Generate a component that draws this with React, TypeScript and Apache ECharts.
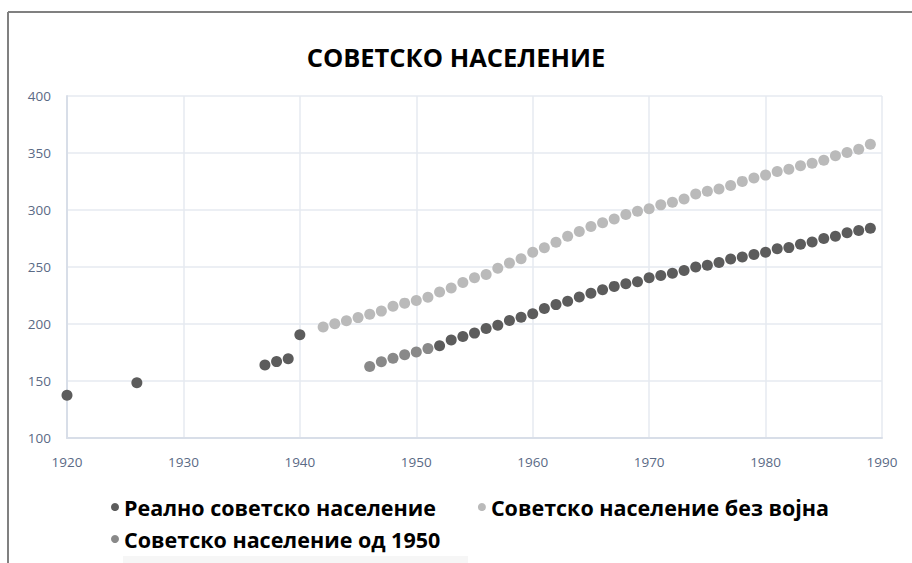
import React, { useEffect, useRef } from "react";
import * as echarts from "echarts";

const titleText = "СОВЕТСКО НАСЕЛЕНИЕ";
const seriesNames = [
  "Реално советско население",
  "Советско население без војна",
  "Советско население од 1950",
];

// Реално советско население
const realYears = [
  1920, 1926, 1937, 1938, 1939, 1940,
  1952, 1953, 1954, 1955, 1956, 1957, 1958, 1959, 1960, 1961,
  1962, 1963, 1964, 1965, 1966, 1967, 1968, 1969, 1970, 1971,
  1972, 1973, 1974, 1975, 1976, 1977, 1978, 1979, 1980, 1981,
  1982, 1983, 1984, 1985, 1986, 1987, 1988, 1989,
];
const realValues = [
  137.5, 148.5, 164, 167, 169.5, 190.5,
  181, 186, 189, 192, 196, 199, 203, 206, 209, 213.5,
  217, 220, 223.6, 227, 230, 233, 235.3, 237, 240.6, 242.6,
  244.5, 247, 250, 251.5, 254, 257, 258.7, 261, 263, 266,
  267, 270, 272, 275, 277, 280, 282, 284,
];

// Советско население без војна
const noWarYears = [
  1942, 1943, 1944, 1945, 1946, 1947, 1948, 1949, 1950, 1951,
  1952, 1953, 1954, 1955, 1956, 1957, 1958, 1959, 1960, 1961,
  1962, 1963, 1964, 1965, 1966, 1967, 1968, 1969, 1970, 1971,
  1972, 1973, 1974, 1975, 1976, 1977, 1978, 1979, 1980, 1981,
  1982, 1983, 1984, 1985, 1986, 1987, 1988, 1989,
];
const noWarValues = [
  197.4, 200.3, 202.8, 205.6, 208.5, 211.3, 215.5, 218.3, 220.6, 223.5,
  228, 231.5, 236.5, 240.6, 243.5, 249, 253.4, 257.2, 263, 266.8,
  271.7, 277, 281.1, 285.5, 288.8, 292.2, 296, 298.9, 301, 304.5,
  306.8, 309.7, 314.1, 316.4, 318.5, 321.5, 325.1, 328, 330.6, 333.8,
  335.8, 338.8, 341.1, 343.7, 347.5, 350.4, 353.3, 357.7,
];

// Советско население од 1950
const from1950Years = [1946, 1947, 1948, 1949, 1950, 1951];
const from1950Values = [162.7, 166.8, 170, 173, 175.5, 178.4];

const xTicks = [1920, 1930, 1940, 1950, 1960, 1970, 1980, 1990];
const yTicks = [100, 150, 200, 250, 300, 350, 400];

const colors = ["#5c5c5c", "#bababa", "#898989"];

const pairs = (xs: number[], ys: number[]) => xs.map((x, i) => [x, ys[i]]);

export default function App() {
  const ref = useRef<HTMLDivElement>(null);
  useEffect(() => {
    if (!ref.current) return;
    const chart = echarts.init(ref.current, null, { renderer: "svg" });
    const font = "'Open Sans', sans-serif";
    const labelColor = "#5a6a85";
    const legendText = { fontFamily: font, fontWeight: "bold", fontSize: 21.5, color: "#000" };
    chart.setOption({
      animation: false,
      backgroundColor: "#ffffff",
      title: {
        text: titleText,
        left: "center",
        top: 39,
        textStyle: { fontFamily: font, fontWeight: "bold", fontSize: 25.5, color: "#000" },
      },
      grid: { left: 67, right: 30, top: 96, bottom: 125, containLabel: false },
      xAxis: {
        type: "value",
        min: xTicks[0],
        max: xTicks[xTicks.length - 1],
        interval: 10,
        axisLine: { show: true, onZero: false, lineStyle: { color: "#d8dee8", width: 2 } },
        axisTick: { show: false },
        splitLine: { show: true, lineStyle: { color: "#e6eaf1", width: 1.5 } },
        axisLabel: {
          fontFamily: font,
          fontSize: 13.5,
          color: labelColor,
          margin: 17,
          formatter: (v: number) => String(v),
        },
      },
      yAxis: {
        type: "value",
        min: yTicks[0],
        max: yTicks[yTicks.length - 1],
        interval: 50,
        axisLine: { show: true, onZero: false, lineStyle: { color: "#d8dee8", width: 2 } },
        axisTick: { show: false },
        splitLine: { show: true, lineStyle: { color: "#e6eaf1", width: 1.5 } },
        axisLabel: { fontFamily: font, fontSize: 13.5, color: labelColor, margin: 16 },
      },
      legend: [
        {
          data: [seriesNames[0], seriesNames[1]],
          left: 106,
          top: 491,
          icon: "circle",
          itemWidth: 8,
          itemHeight: 8,
          itemGap: 42,
          textStyle: legendText,
        },
        {
          data: [seriesNames[2]],
          left: 106,
          top: 523,
          icon: "circle",
          itemWidth: 8,
          itemHeight: 8,
          textStyle: legendText,
        },
      ],
      graphic: [
        { type: "line", shape: { x1: 8, y1: 12, x2: 912, y2: 12 }, style: { stroke: "#808080", lineWidth: 2 } },
        { type: "line", shape: { x1: 8, y1: 12, x2: 8, y2: 563 }, style: { stroke: "#808080", lineWidth: 2 } },
        { type: "rect", shape: { x: 123, y: 556, width: 345, height: 7 }, style: { fill: "#f6f6f6" } },
      ],
      series: [
        {
          name: seriesNames[0],
          type: "scatter",
          symbolSize: 11,
          itemStyle: { color: colors[0], opacity: 1 },
          data: pairs(realYears, realValues),
        },
        {
          name: seriesNames[1],
          type: "scatter",
          symbolSize: 11,
          itemStyle: { color: colors[1], opacity: 1 },
          data: pairs(noWarYears, noWarValues),
        },
        {
          name: seriesNames[2],
          type: "scatter",
          symbolSize: 11,
          itemStyle: { color: colors[2], opacity: 1 },
          data: pairs(from1950Years, from1950Values),
        },
      ],
    });
    return () => chart.dispose();
  }, []);
  return (
    <div
      ref={ref}
      style={{ position: "fixed", left: 0, top: 0, width: 912, height: 563 }}
    />
  );
}
